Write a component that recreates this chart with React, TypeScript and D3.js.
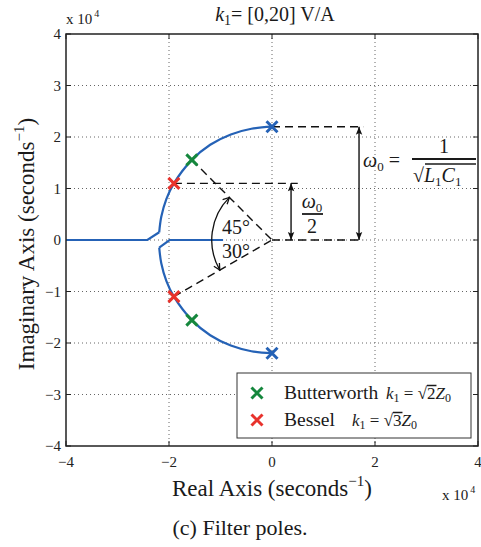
import * as d3 from 'd3';
import React, { useRef, useEffect } from 'react';

const xTicks = [-4, -2, 0, 2, 4];
const yTicks = [-4, -3, -2, -1, 0, 1, 2, 3, 4];

// root locus branches (units of 1e4 s^-1)
const upperArcRe = [0, -0.4, -0.8, -1.2, -1.556, -1.905, -2.05, -2.15, -2.19];
const upperArcIm = [2.2, 2.16, 2.05, 1.85, 1.556, 1.1, 0.8, 0.45, 0.15];
const upperTailRe = [-2.19, -2.42, -4];
const upperTailIm = [0.15, 0, 0];
const lowerArcRe = [0, -0.4, -0.8, -1.2, -1.556, -1.905, -2.05, -2.15, -2.19];
const lowerArcIm = [-2.2, -2.16, -2.05, -1.85, -1.556, -1.1, -0.8, -0.45, -0.15];
const lowerTailRe = [-2.19, -1.99, -0.95];
const lowerTailIm = [-0.15, 0, 0];

const naturalPoles = [[0, 2.2], [0, -2.2]];
const butterworthPoles = [[-1.556, 1.556], [-1.556, -1.556]];
const besselPoles = [[-1.905, 1.1], [-1.905, -1.1]];

const FONT = "'Liberation Serif', 'Times New Roman', serif";
const BLUE = '#2562b6';
const GREEN = '#15873d';
const RED = '#e8322c';

function App() {
    const ref = useRef(null);

    useEffect(() => {
        const svg = d3.select(ref.current);
        svg.selectAll('*').remove();
        draw(svg);
    }, []);

    const draw = (svg) => {
        const left = 66, right = 478, top = 34, bottom = 446;
        const x = d3.scaleLinear().domain([-4, 4]).range([left, right]);
        const y = d3.scaleLinear().domain([-4, 4]).range([bottom, top]);

        const defs = svg.append('defs');
        defs.append('marker')
            .attr('id', 'arr')
            .attr('viewBox', '0 0 10 10')
            .attr('refX', 10).attr('refY', 5)
            .attr('markerWidth', 10).attr('markerHeight', 8)
            .attr('markerUnits', 'userSpaceOnUse')
            .attr('orient', 'auto-start-reverse')
            .append('path').attr('d', 'M0,1 L10,5 L0,9 L2,5 Z').attr('fill', '#111');
        defs.append('marker')
            .attr('id', 'open')
            .attr('viewBox', '0 0 10 10')
            .attr('refX', 9).attr('refY', 5)
            .attr('markerWidth', 8).attr('markerHeight', 8)
            .attr('markerUnits', 'userSpaceOnUse')
            .attr('orient', 'auto-start-reverse')
            .append('path').attr('d', 'M1,1 L9,5 L1,9').attr('fill', 'none')
            .attr('stroke', '#111').attr('stroke-width', 1.6);

        // grid
        const grid = svg.append('g').attr('stroke', '#666').attr('stroke-width', 1).attr('stroke-dasharray', '1,3');
        xTicks.slice(1, -1).forEach(t => {
            grid.append('line').attr('x1', x(t)).attr('x2', x(t)).attr('y1', top).attr('y2', bottom);
        });
        yTicks.slice(1, -1).forEach(t => {
            grid.append('line').attr('x1', left).attr('x2', right).attr('y1', y(t)).attr('y2', y(t));
        });

        // ticks on all four sides, inward
        const tk = svg.append('g').attr('stroke', '#222').attr('stroke-width', 1);
        xTicks.forEach(t => {
            tk.append('line').attr('x1', x(t)).attr('x2', x(t)).attr('y1', bottom).attr('y2', bottom - 5);
            tk.append('line').attr('x1', x(t)).attr('x2', x(t)).attr('y1', top).attr('y2', top + 5);
        });
        yTicks.forEach(t => {
            tk.append('line').attr('x1', left).attr('x2', left + 5).attr('y1', y(t)).attr('y2', y(t));
            tk.append('line').attr('x1', right).attr('x2', right - 5).attr('y1', y(t)).attr('y2', y(t));
        });

        const fmt = (d) => (d < 0 ? '\u2212' + Math.abs(d) : String(d));
        svg.append('g').selectAll('text').data(xTicks).enter().append('text')
            .attr('x', d => x(d)).attr('y', 467)
            .attr('text-anchor', 'middle')
            .attr('font-family', FONT).attr('font-size', 15).attr('fill', '#222')
            .text(fmt);
        svg.append('g').selectAll('text').data(yTicks).enter().append('text')
            .attr('x', left - 5).attr('y', d => y(d) + 5)
            .attr('text-anchor', 'end')
            .attr('font-family', FONT).attr('font-size', 15).attr('fill', '#222')
            .text(fmt);

        // dashed construction lines
        const dash = svg.append('g').attr('stroke', '#111').attr('stroke-width', 1.4)
            .attr('stroke-dasharray', '8,5').attr('fill', 'none');
        const hLine = (x0, x1, v) => dash.append('line')
            .attr('x1', x(x0)).attr('x2', x(x1)).attr('y1', y(v)).attr('y2', y(v));
        hLine(naturalPoles[0][0], 1.77, naturalPoles[0][1]);
        hLine(besselPoles[0][0], 0.5, besselPoles[0][1]);
        hLine(0, 1.77, 0);
        dash.append('line')
            .attr('x1', x(butterworthPoles[0][0])).attr('y1', y(butterworthPoles[0][1]))
            .attr('x2', x(0)).attr('y2', y(0));
        dash.append('line')
            .attr('x1', x(besselPoles[1][0])).attr('y1', y(besselPoles[1][1]))
            .attr('x2', x(0)).attr('y2', y(0));

        // root locus
        const line = d3.line().x(d => x(d[0])).y(d => y(d[1]));
        const arc = d3.line().x(d => x(d[0])).y(d => y(d[1])).curve(d3.curveCatmullRom);
        const branches = [
            [arc, upperArcRe, upperArcIm],
            [line, upperTailRe, upperTailIm],
            [arc, lowerArcRe, lowerArcIm],
            [line, lowerTailRe, lowerTailIm],
        ];
        branches.forEach(([gen, re, im]) => {
            svg.append('path')
                .attr('d', gen(re.map((r, i) => [r, im[i]])))
                .attr('fill', 'none').attr('stroke', BLUE).attr('stroke-width', 2.2);
        });

        // vertical arrows
        const arrows = svg.append('g').attr('stroke', '#111').attr('stroke-width', 1.4);
        arrows.append('line').attr('x1', x(1.69)).attr('x2', x(1.69))
            .attr('y1', y(0)).attr('y2', y(naturalPoles[0][1]))
            .attr('marker-start', 'url(#arr)').attr('marker-end', 'url(#arr)');
        arrows.append('line').attr('x1', x(0.37)).attr('x2', x(0.37))
            .attr('y1', y(0)).attr('y2', y(besselPoles[0][1]))
            .attr('marker-start', 'url(#arr)').attr('marker-end', 'url(#arr)');

        // angle arc 45 / 30 deg
        const r = x(1.17) - x(0);
        const cx = x(0), cy = y(0);
        const a1 = 135 * Math.PI / 180, a2 = 210 * Math.PI / 180;
        svg.append('path')
            .attr('d', `M${cx + r * Math.cos(a1)},${cy - r * Math.sin(a1)} A${r},${r} 0 0 0 ${cx + r * Math.cos(a2)},${cy - r * Math.sin(a2)}`)
            .attr('fill', 'none').attr('stroke', '#111').attr('stroke-width', 1.3)
            .attr('marker-start', 'url(#open)').attr('marker-end', 'url(#open)');

        // pole markers
        const cross = (g, px, py, color) => {
            const s = 5.5;
            g.append('path')
                .attr('d', `M${px - s},${py - s}L${px + s},${py + s}M${px - s},${py + s}L${px + s},${py - s}`)
                .attr('stroke', color).attr('stroke-width', 3).attr('fill', 'none');
        };
        const poles = svg.append('g');
        naturalPoles.forEach(p => cross(poles, x(p[0]), y(p[1]), BLUE));
        butterworthPoles.forEach(p => cross(poles, x(p[0]), y(p[1]), GREEN));
        besselPoles.forEach(p => cross(poles, x(p[0]), y(p[1]), RED));

        // axes box
        svg.append('rect').attr('x', left).attr('y', top)
            .attr('width', right - left).attr('height', bottom - top)
            .attr('fill', 'none').attr('stroke', '#222').attr('stroke-width', 1.5);

        // helper for text
        const txt = (g, tx, ty, size, anchor = 'start') => g.append('text')
            .attr('x', tx).attr('y', ty).attr('font-family', FONT)
            .attr('font-size', size).attr('fill', '#1a1a1a').attr('text-anchor', anchor);
        const overline = (g, node, dy) => {
            const b = node.getBBox();
            g.append('line').attr('x1', b.x).attr('x2', b.x + b.width + 1)
                .attr('y1', b.y + dy).attr('y2', b.y + dy)
                .attr('stroke', '#1a1a1a').attr('stroke-width', 1.5);
        };

        // angle labels
        txt(svg, 222, 234, 20).text('45°');
        txt(svg, 222, 258, 20).text('30°');

        // omega0 / 2
        const w2 = txt(svg, 312, 208, 20, 'middle');
        w2.append('tspan').attr('font-style', 'italic').text('ω');
        w2.append('tspan').attr('font-size', 13).attr('dy', 4).text('0');
        svg.append('line').attr('x1', 302).attr('x2', 323).attr('y1', 214).attr('y2', 214)
            .attr('stroke', '#1a1a1a').attr('stroke-width', 1.8);
        txt(svg, 312, 233, 20, 'middle').text('2');

        // omega0 = 1/sqrt(L1C1)
        const w0 = txt(svg, 363, 167, 20);
        w0.append('tspan').attr('font-style', 'italic').text('ω');
        w0.append('tspan').attr('font-size', 13).attr('dy', 4).text('0');
        w0.append('tspan').attr('dy', -4).text(' = ');
        svg.append('line').attr('x1', 412).attr('x2', 476).attr('y1', 159).attr('y2', 159)
            .attr('stroke', '#1a1a1a').attr('stroke-width', 2);
        txt(svg, 444, 153, 20, 'middle').text('1');
        const sq = txt(svg, 413, 182, 20);
        sq.append('tspan').text('√');
        const rad = sq.append('tspan').attr('font-style', 'italic');
        rad.append('tspan').text('L');
        rad.append('tspan').attr('font-size', 13).attr('dy', 4).attr('font-style', 'normal').text('1');
        rad.append('tspan').attr('dy', -4).text('C');
        rad.append('tspan').attr('font-size', 13).attr('dy', 4).attr('font-style', 'normal').text('1');
        svg.append('line').attr('x1', 425).attr('x2', 476).attr('y1', 164).attr('y2', 164)
            .attr('stroke', '#1a1a1a').attr('stroke-width', 1.6);

        // title
        const title = txt(svg, 275, 21, 20, 'middle');
        title.append('tspan').attr('font-style', 'italic').text('k');
        title.append('tspan').attr('font-size', 14).attr('dy', 4).text('1');
        title.append('tspan').attr('dy', -4).text('= [0,20] V/A');

        // exponent labels
        const e1 = txt(svg, 66, 24, 15);
        e1.append('tspan').text('x 10');
        e1.append('tspan').attr('font-size', 10).attr('dy', -7).attr('dx', 2).text('4');
        const e2 = txt(svg, 442, 500, 15);
        e2.append('tspan').text('x 10');
        e2.append('tspan').attr('font-size', 10).attr('dy', -7).attr('dx', 2).text('4');

        // axis labels
        const xl = txt(svg, 272, 496, 23, 'middle');
        xl.append('tspan').text('Real Axis (seconds');
        xl.append('tspan').attr('font-size', 15).attr('dy', -10).text('\u22121');
        xl.append('tspan').attr('dy', 10).text(')');
        const yl = txt(svg, 0, 0, 23, 'middle').attr('transform', 'translate(34,244) rotate(-90)');
        yl.append('tspan').text('Imaginary Axis (seconds');
        yl.append('tspan').attr('font-size', 15).attr('dy', -10).text('\u22121');
        yl.append('tspan').attr('dy', 10).text(')');

        // caption
        txt(svg, 240, 535, 22, 'middle').text('(c) Filter poles.');

        // legend
        const lg = svg.append('g');
        lg.append('rect').attr('x', 237).attr('y', 373).attr('width', 234).attr('height', 65)
            .attr('fill', 'white').attr('stroke', '#333').attr('stroke-width', 1);
        cross(lg, 257, 393, GREEN);
        cross(lg, 257, 420, RED);
        txt(lg, 284, 399, 19.5).text('Butterworth');
        txt(lg, 284, 426, 19.5).text('Bessel');
        const mathK = (mx, my, digit) => {
            const t = txt(lg, mx, my, 17);
            t.append('tspan').attr('font-style', 'italic').text('k');
            t.append('tspan').attr('font-size', 12).attr('dy', 3).text('1');
            t.append('tspan').attr('dy', -3).text(' = √');
            const d = t.append('tspan').text(digit);
            t.append('tspan').attr('font-style', 'italic').text('Z');
            t.append('tspan').attr('font-size', 12).attr('dy', 3).text('0');
            overline(lg, d.node(), 1.5);
        };
        mathK(386, 399, '2');
        mathK(352, 426, '3');
    };

    return (
        <div style={{ position: 'absolute', left: 0, top: 0 }}>
            <svg ref={ref} width={481} height={547} style={{ display: 'block', background: 'white' }}></svg>
        </div>
    );
}

export default App;
